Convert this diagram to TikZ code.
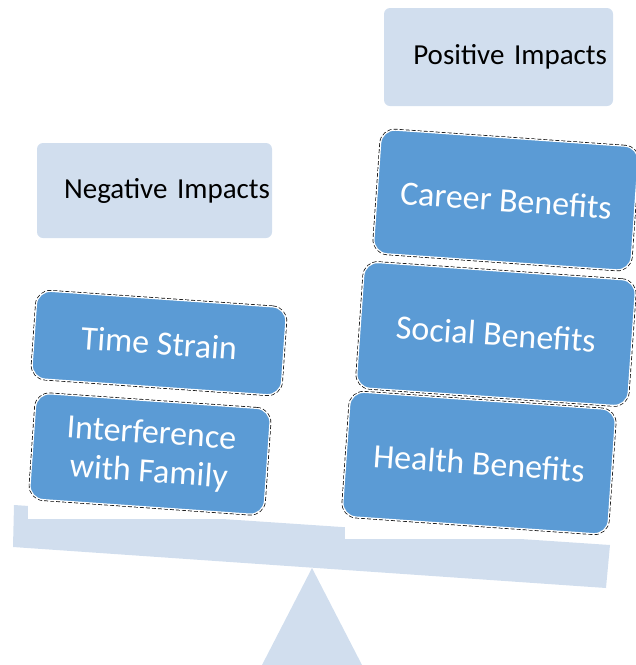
\documentclass[tikz,border=0pt]{standalone}
\usepackage{fontspec}
\setmainfont{Carlito}
\definecolor{impactblue}{RGB}{91,155,213}
\definecolor{scalegray}{RGB}{209,222,238}

\begin{document}
\begin{tikzpicture}[x=1pt,y=-1pt]
	\tikzstyle{every node}=[font=\fontsize{29}{35}\selectfont]
	\tikzstyle{impact}=[rectangle, rounded corners=14pt, fill=impactblue, draw=white, line width=1.2pt, text=white, align=center, rotate=-4, font=\fontsize{34}{39}\selectfont, preaction={draw=black, line width=2.6pt, dash pattern=on 4pt off 2pt}]
	\tikzstyle{heading}=[rectangle, rounded corners=6pt, fill=scalegray, text=black, align=right]
	\useasboundingbox (0,0) rectangle (636,665);
	
	%Waagebalken und Drehpunkt
	\fill[scalegray] (14,505) -- (610,545) -- (606,588) -- (13,547) -- cycle;
	\fill[scalegray] (312,568) -- (362,665) -- (262,665) -- cycle;
	
	%Auflageflaechen maskieren
	\fill[white] (28,490) rectangle (345,519);
	\fill[white] (345,500) rectangle (618,539);
	
	%Ueberschriften
	\node[heading, minimum width=235, minimum height=95, inner sep=2pt, text width=231] (neg) at (154.5,190.5) {Negative Impacts};
	\node[heading, minimum width=229, minimum height=98, inner sep=6pt, text width=217] (pos) at (498.5,57) {Positive Impacts};
	
	%linke Seite
	\node[impact, minimum width=250, minimum height=88] (time) at (159,343) {Time Strain};
	\node[impact, minimum width=235, minimum height=106] (family) at (150,454) {Interference\\with Family};
	
	%rechte Seite
	\node[impact, minimum width=258, minimum height=124] (career) at (506,200) {Career Benefits};
	\node[impact, minimum width=272, minimum height=126] (social) at (496,334) {Social Benefits};
	\node[impact, minimum width=266, minimum height=125] (health) at (479,463) {Health Benefits};
\end{tikzpicture}
\end{document}
